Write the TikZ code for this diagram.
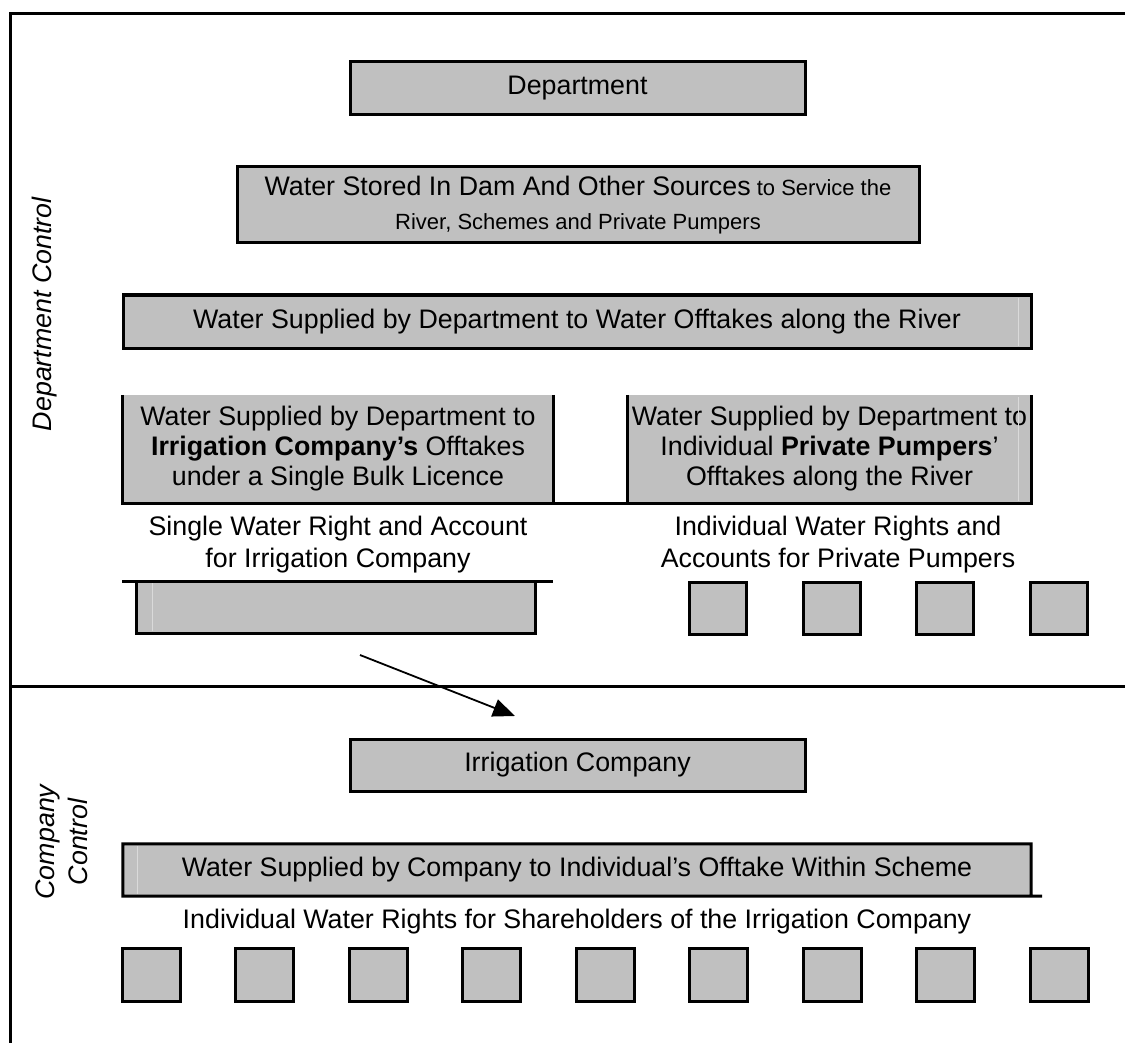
\documentclass[tikz,border=0pt]{standalone}
\usepackage{fontspec}
\setmainfont{Liberation Sans}
\usetikzlibrary{arrows.meta}
\definecolor{boxgray}{HTML}{C0C0C0}
\definecolor{faint}{HTML}{DADADA}
\newcommand\mainfs{\fontsize{26.8}{30}\selectfont}
\newcommand\smallfs{\fontsize{22}{30}\selectfont}
\begin{document}
\begin{tikzpicture}[x=1pt,y=-1pt,
  frameline/.style={line width=3pt},
  box/.style={draw, line width=3pt, fill=boxgray, inner sep=0pt, font=\mainfs, align=center},
  openbox/.style={fill=boxgray, inner sep=0pt, font=\mainfs, align=center},
  edge/.style={line width=3pt},
  sq/.style={draw, line width=3pt, fill=boxgray, inner sep=0pt, minimum width=57pt, minimum height=52pt},
  lbl/.style={inner sep=0pt, font=\mainfs, align=center},
  side/.style={inner sep=0pt, font=\mainfs\itshape, align=center, rotate=90},
  faintline/.style={draw=faint, line width=1pt},
  arr/.style={line width=1.8pt, -{Triangle[length=22pt,width=18pt]}}
]
\useasboundingbox (0,0) rectangle (1125,1043);
\fill[white] (0,0) rectangle (1125,1043);

% frame
\coordinate (ftl) at (10,14);
\coordinate (ftr) at (1125,14);
\coordinate (fbl) at (10,1043);
\coordinate (fml) at (10,686.5);
\coordinate (fmr) at (1125,686.5);
\draw[frameline] (ftr) -- (ftl) -- (fbl);
\draw[frameline] (fml) -- (fmr);

% side labels
\node[side, anchor=east] (deptctl) at (45,197) {Department Control};
\node[side] (coctl) at (62,842) {Company\\[3pt]Control};

% top section
\node[box, minimum width=455pt, minimum height=53pt] (dept) at (577.5,88.5) {Department};
\node[box, minimum width=682pt, minimum height=76pt, font=\smallfs] (stored) at (578,205)
  {{\mainfs Water Stored In Dam And Other Sources} to Service the\\[4pt]River, Schemes and Private Pumpers};
\node[box, minimum width=908pt, minimum height=53pt] (river) at (577,321.5)
  {Water Supplied by Department to Water Offtakes along the River};
\draw[faintline] (1018,298) -- (1018,346);

\node[openbox, minimum width=430pt, minimum height=108pt] (irrco) at (338,449)
  {Water Supplied by Department to\\\textbf{Irrigation Company’s} Offtakes\\under a Single Bulk Licence};
\node[openbox, minimum width=403pt, minimum height=108pt] (pp) at (829.5,449)
  {Water Supplied by Department to\\Individual \textbf{Private Pumpers}’\\Offtakes along the River};
\draw[faintline] (1018,397) -- (1018,501);
\draw[edge] (irrco.north west) -- (irrco.south west) -- (pp.south east) -- (pp.north east);
\draw[edge] (irrco.north east) -- (irrco.south east);
\draw[edge] (pp.north west) -- (pp.south west);

\node[lbl] (singletext) at (338,545) {Single Water Right and Account\\[2pt]for Irrigation Company};
\node[lbl] (indivtext) at (838,545) {Individual Water Rights and\\[2pt]Accounts for Private Pumpers};

\node[openbox, minimum width=398pt, minimum height=52pt] (bulk) at (336,607) {};
\draw[faintline] (152,583) -- (152,631);
\coordinate (ruleL) at (122,581);
\coordinate (ruleR) at (553,581);
\draw[edge] (ruleL) -- (ruleR);
\draw[edge] (bulk.north west) -- (bulk.south west) -- (bulk.south east) -- (bulk.north east);

\foreach \i in {5,...,8} {
  \node[sq] (pps\i) at ({150.5+113.5*\i},608) {};
}

% arrow
\coordinate (arrowstart) at (360,655);
\coordinate (arrowend) at (515,716);
\draw[arr] (arrowstart) -- (arrowend);

% lower section
\node[box, minimum width=455pt, minimum height=52pt] (company) at (577.5,765) {Irrigation Company};
\node[openbox, minimum width=908pt, minimum height=52pt] (cosupply) at (577,870)
  {Water Supplied by Company to Individual’s Offtake Within Scheme};
\draw[faintline] (137,846) -- (137,894);
\coordinate (coext) at (1042,896);
\draw[edge] (cosupply.south east) -- (cosupply.north east) -- (cosupply.north west) -- (cosupply.south west) -- (coext);

\node[lbl] (shtext) at (577,922) {Individual Water Rights for Shareholders of the Irrigation Company};

\foreach \i in {0,...,8} {
  \node[sq, minimum width=58pt, minimum height=53pt] (shs\i) at ({151+113.5*\i},974.5) {};
}
\end{tikzpicture}
\end{document}
